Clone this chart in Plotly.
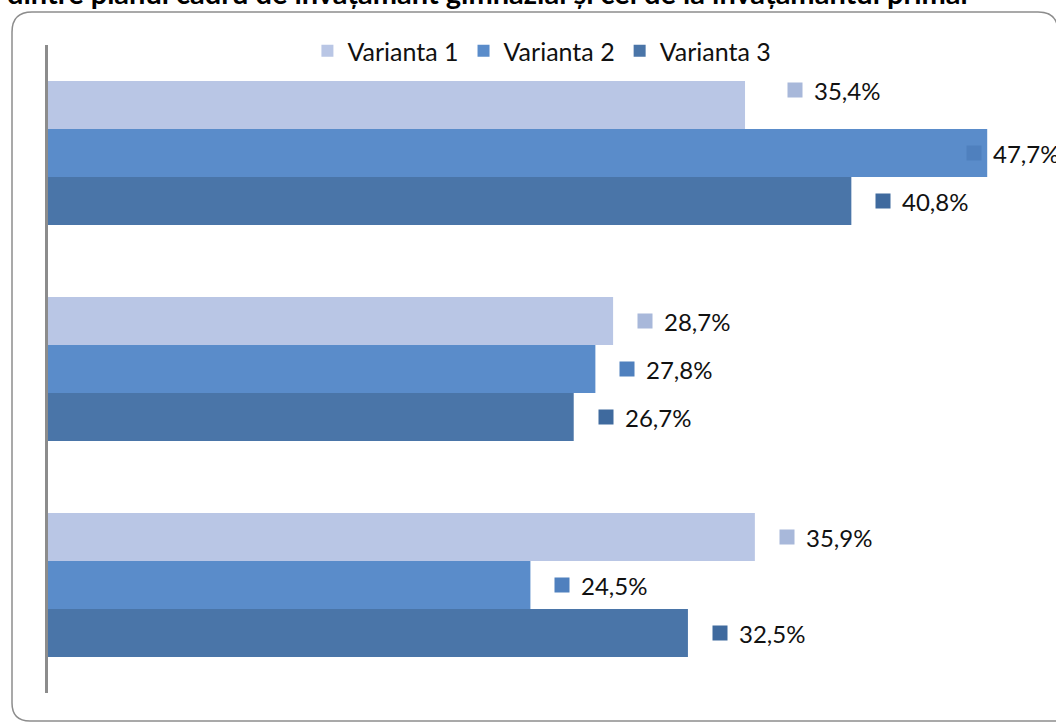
import plotly.graph_objects as go

categories = ["Grupa 1", "Grupa 2", "Grupa 3"]
series = ["Varianta 1", "Varianta 2", "Varianta 3"]
v1 = [35.4, 28.7, 35.9]
v2 = [47.7, 27.8, 24.5]
v3 = [40.8, 26.7, 32.5]
values = [v1, v2, v3]

bar_colors = ["#B9C6E5", "#5A8CCA", "#4A75A8"]
key_colors = ["#A8B8DA", "#4F80BE", "#3F6A9E"]
FONT = "Lato"

# plot area in pixels: x 48..1056, y 45..693
L, T, W, H = 48, 45, 1008, 648
def px(x, y): return (x - L) / W, (T + H - y) / H

fig = go.Figure()
for name, vals, col in zip(series, values, bar_colors):
    fig.add_trace(go.Bar(y=categories, x=vals, name=name, orientation="h", marker=dict(color=col, line=dict(width=0))))

# data labels with legend key, nudges like in the original (series, category) -> (dx, dy)
nudge = {(0, 0): (18, 15), (1, 0): (-45, 0)}
for i, vals in enumerate(values):
    for j, v in enumerate(vals):
        dx, dy = nudge.get((i, j), (0, 0))
        ys = 48 * (1 - i) + dy
        fig.add_annotation(x=v, y=categories[j], xref="x", yref="y", text=" ", showarrow=False, width=14, height=14, borderpad=0,
                           bgcolor=key_colors[i], xanchor="center", yanchor="middle", xshift=32 + dx, yshift=ys)
        fig.add_annotation(x=v, y=categories[j], xref="x", yref="y", text=f"{v:.1f}%".replace(".", ","), showarrow=False,
                           font=dict(family=FONT, size=24, color="#111"), xanchor="left", yanchor="middle", xshift=49 + dx, yshift=ys)

# cut-off title at the very top
fig.add_annotation(x=(6 - L) / W, y=px(0, 11)[1], xref="paper", yref="paper", xanchor="left", yanchor="bottom", showarrow=False,
                   text="<b>dintre planul cadru de învățământ gimnazial și cel de la învățământul primar</b>",
                   font=dict(family=FONT, size=29, color="#000"), borderpad=0)

# chart border: straight pieces + rounded corners, right side is off the page
border = dict(color="#8C8C8C", width=1.5)
def seg(a, b): 
    (xa, ya), (xb, yb) = px(*a), px(*b)
    fig.add_shape(type="line", x0=xa, y0=ya, x1=xb, y1=yb, xref="paper", yref="paper", line=border, layer="below")
def corner(a, c, b):
    (xa, ya), (xc, yc), (xb, yb) = px(*a), px(*c), px(*b)
    fig.add_shape(type="path", path=f"M {xa},{ya} Q {xc},{yc} {xb},{yb}", xref="paper", yref="paper", line=border, layer="below")
seg((32, 12), (1038, 12))
seg((12, 32), (12, 703))
seg((30, 721), (1056, 721))
corner((12, 32), (12, 12), (32, 12))
corner((12, 703), (12, 721), (30, 721))
corner((1038, 12), (1058, 12), (1058, 32))

fig.update_layout(
    width=1056, height=722, margin=dict(l=L, r=1056 - L - W, t=T, b=722 - T - H),
    paper_bgcolor="white", plot_bgcolor="white", barmode="group", bargap=1/3, bargroupgap=0,
    font=dict(family=FONT, size=24, color="#111"), showlegend=True,
    legend=dict(orientation="h", x=0.49, y=px(0, 51)[1], xanchor="center", yanchor="middle", font=dict(size=25),
                bgcolor="rgba(0,0,0,0)", itemsizing="constant"),
    xaxis=dict(range=[0, W / 19.69], showgrid=False, showticklabels=False, zeroline=False, showline=False, ticks=""),
    yaxis=dict(autorange="reversed", showgrid=False, showticklabels=False, ticks="", showline=True, linecolor="#8C8C8C", linewidth=3),
)
fig.write_html("out.html", config={"displayModeBar": False},
               post_script="document.body.style.margin='0';document.body.style.overflow='hidden';")
